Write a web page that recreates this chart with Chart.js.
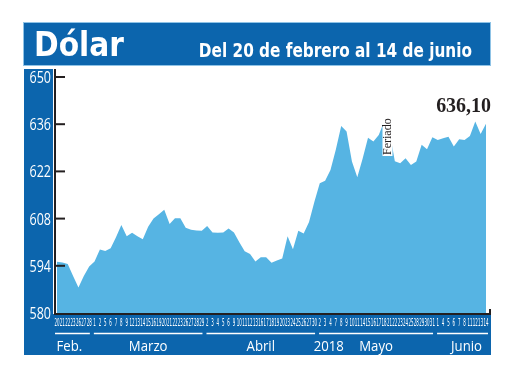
<!DOCTYPE html>
<html>
<head>
<meta charset="utf-8">
<script src="https://cdn.jsdelivr.net/npm/chart.js@4"></script>
<style>
  html, body { margin: 0; padding: 0; background: #fff; }
  #wrap { width: 520px; height: 390px; }
</style>
</head>
<body>
<div id="wrap"><canvas id="dolarChart" width="520" height="390"></canvas></div>
<script>
// dias habiles del 20 feb al 14 jun 2018
const dias = [
  20, 21, 22, 23, 26, 27, 28,
  1, 2, 5, 6, 7, 8, 9, 12, 13, 14, 15, 16, 19, 20, 21, 22, 23, 26, 27, 28, 29,
  2, 3, 4, 5, 6, 9, 10, 11, 12, 13, 16, 17, 18, 19, 20, 23, 24, 25, 26, 27, 30,
  2, 3, 4, 7, 8, 9, 10, 11, 14, 15, 16, 17, 18, 21, 22, 23, 24, 25, 28, 29, 30, 31,
  1, 4, 5, 6, 7, 8, 11, 12, 13, 14
];
const meses = ['Feb.', 'Marzo', 'Abril', 'Mayo', 'Junio'];
const diasPorMes = [7, 21, 21, 22, 10];

const dolar = [
  595.2, 595.0, 594.5, 591.0, 587.6, 591.0, 593.8,
  595.3, 598.8, 598.4, 599.2, 602.5, 606.1, 602.8, 603.8, 602.8, 601.9, 605.6, 608.0, 609.3, 610.6, 606.4, 608.1, 608.1, 605.3, 604.7, 604.5, 604.4, 605.8,
  603.9, 603.8, 603.9, 605.1, 603.9, 601.0, 598.3, 597.5, 595.3, 596.5, 596.5, 594.9, 595.6, 596.2, 602.8, 598.9, 604.4, 603.6, 607.0, 613.0, 618.5,
  619.2, 622.4, 628.5, 635.5, 633.8, 624.9, 620.3, 625.8, 632.0, 630.9, 632.8, 636.8, 634.0, 625.0, 624.4, 625.9, 623.9, 624.9, 629.9, 628.6, 632.1, 631.3,
  631.8, 632.3, 629.4, 631.5, 631.3, 632.5, 636.8, 633.1, 636.1
];
const yTicks = [580, 594, 608, 622, 636, 650];
const ultimoValor = '636,10';
const feriadoIdx = 62;

const azul = '#0c65ad';
const celeste = '#56b4e3';

function textoAjustado(ctx, txt, x, y, font, color, escala, align) {
  ctx.save();
  ctx.font = font;
  ctx.fillStyle = color;
  ctx.textBaseline = 'alphabetic';
  const w = ctx.measureText(txt).width * escala;
  let x0 = x;
  if (align === 'center') x0 = x - w / 2;
  if (align === 'right') x0 = x - w;
  ctx.translate(x0, y);
  ctx.scale(escala, 1);
  ctx.textAlign = 'left';
  ctx.fillText(txt, 0, 0);
  ctx.restore();
}

const marco = {
  id: 'marco',
  beforeDraw(chart) {
    const ctx = chart.ctx;
    ctx.save();
    ctx.fillStyle = '#fff';
    ctx.fillRect(0, 0, chart.width, chart.height);
    ctx.fillStyle = azul;
    ctx.fillRect(24, 22, 467, 43);
    ctx.fillRect(24, 69, 29, 286);
    ctx.fillRect(24, 314, 467, 41);
    ctx.strokeStyle = '#8fc3e6';
    ctx.lineWidth = 1;
    ctx.strokeRect(23.5, 22.5, 467, 43);
    ctx.restore();
    textoAjustado(ctx, 'Dólar', 34, 56, 'bold 33px "DejaVu Sans"', '#fff', 0.9, 'left');
    textoAjustado(ctx, 'Del 20 de febrero al 14 de junio', 472, 57, 'bold 20px "DejaVu Sans"', '#fff', 0.765, 'right');
  },
  afterDraw(chart) {
    const ctx = chart.ctx;
    const xs = chart.scales.x;
    const ys = chart.scales.y;
    const axisX = 55;
    const axisY = ys.getPixelForValue(580);

    // ejes
    ctx.save();
    ctx.strokeStyle = '#231f20';
    ctx.lineWidth = 2;
    ctx.beginPath();
    ctx.moveTo(axisX, 69);
    ctx.lineTo(axisX, axisY + 1);
    ctx.lineTo(490, axisY + 1);
    ctx.lineTo(490, axisY - 4);
    ctx.stroke();
    yTicks.forEach(v => {
      const py = ys.getPixelForValue(v);
      if (v !== 580) {
        ctx.beginPath();
        ctx.moveTo(axisX, py);
        ctx.lineTo(axisX + 10, py);
        ctx.stroke();
      }
    });
    ctx.restore();

    yTicks.forEach(v => {
      const py = ys.getPixelForValue(v);
      textoAjustado(ctx, String(v), 51, py + 6, '16px "Open Sans"', '#fff', 0.78, 'right');
    });

    // dias
    dias.forEach((d, i) => {
      const px = xs.getPixelForValue(i);
      textoAjustado(ctx, String(d), px, 326, '11px "DejaVu Sans Condensed"', '#fff', 0.4, 'center');
    });

    // meses con lineas
    let ini = 0;
    ctx.save();
    ctx.strokeStyle = '#fff';
    ctx.lineWidth = 1.5;
    const centros = [];
    diasPorMes.forEach((n, m) => {
      const fin = ini + n - 1;
      const a = ini === 0 ? axisX : (xs.getPixelForValue(ini) + xs.getPixelForValue(ini - 1)) / 2 + 2;
      const b = fin === dias.length - 1 ? 488 : (xs.getPixelForValue(fin) + xs.getPixelForValue(fin + 1)) / 2 - 2;
      ctx.beginPath();
      ctx.moveTo(a, 333.5);
      ctx.lineTo(b, 333.5);
      ctx.stroke();
      centros.push((a + b) / 2);
      ini = fin + 1;
    });
    ctx.restore();
    meses.forEach((m, k) => {
      let cx = centros[k];
      if (k === 0) cx -= 3;
      if (k === 4) cx += 4;
      textoAjustado(ctx, m, cx, 351, '15px "Open Sans"', '#fff', 0.88, 'center');
    });
    const mayoIni = diasPorMes[0] + diasPorMes[1] + diasPorMes[2];
    textoAjustado(ctx, '2018', xs.getPixelForValue(mayoIni) + 9, 351, '15px "Open Sans"', '#fff', 0.88, 'center');

    // ultimo valor
    const lx = xs.getPixelForValue(dolar.length - 1);
    const ly = ys.getPixelForValue(dolar[dolar.length - 1]);
    textoAjustado(ctx, ultimoValor, lx + 5, ly - 12, 'bold 21px "Liberation Serif"', '#231f20', 0.95, 'right');

    // feriado
    const fx = xs.getPixelForValue(feriadoIdx) - 2;
    ctx.save();
    ctx.fillStyle = '#fff';
    ctx.fillRect(fx - 5, 106, 10, 50);
    ctx.translate(fx + 4, 155);
    ctx.rotate(-Math.PI / 2);
    ctx.font = '12px "Liberation Serif"';
    ctx.fillStyle = '#231f20';
    ctx.textAlign = 'left';
    ctx.fillText('Feriado', 0, 0);
    ctx.restore();
  }
};

new Chart(document.getElementById('dolarChart'), {
  type: 'line',
  data: {
    labels: dias,
    datasets: [{
      data: dolar,
      backgroundColor: celeste,
      borderWidth: 0,
      pointRadius: 0,
      tension: 0,
      fill: 'start'
    }]
  },
  options: {
    responsive: false,
    animation: false,
    events: [],
    layout: { padding: { left: 57, right: 34, top: 77, bottom: 77 } },
    plugins: { legend: { display: false }, tooltip: { enabled: false } },
    scales: {
      x: { display: false, offset: false },
      y: { display: false, min: 580, max: 650 }
    }
  },
  plugins: [marco]
});
</script>
</body>
</html>
